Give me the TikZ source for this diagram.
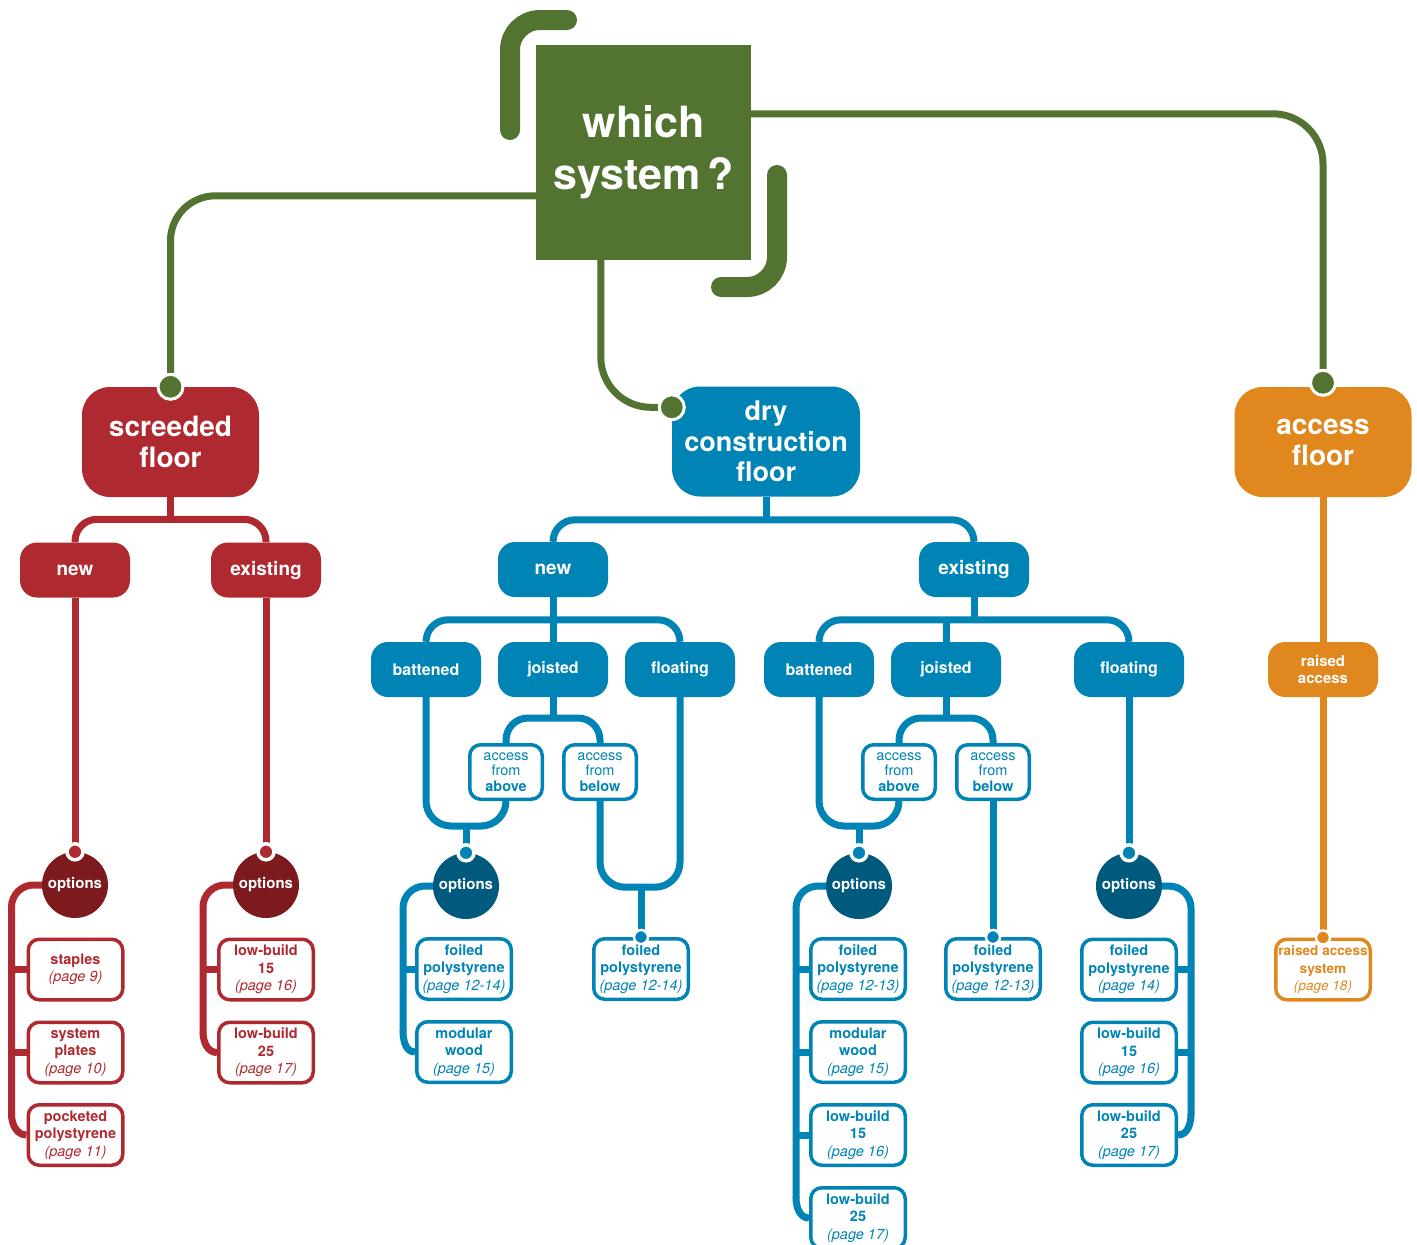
\documentclass[tikz,border=0pt]{standalone}
\usepackage{fontspec}
\setmainfont{TeX Gyre Heros}
\usetikzlibrary{calc}
\definecolor{cgreen}{RGB}{83,115,48}
\definecolor{cred}{RGB}{175,42,48}
\definecolor{cdred}{RGB}{125,26,30}
\definecolor{cblue}{RGB}{0,132,181}
\definecolor{cdblue}{RGB}{0,90,126}
\definecolor{corange}{RGB}{224,135,30}
\pgfdeclarelayer{backlayer}
\pgfdeclarelayer{wirelayer}
\pgfsetlayers{backlayer,wirelayer,main}
\newcommand\fsz[2]{\fontsize{#1}{#2}\selectfont}
\newcommand\pagelbl[1]{{\mdseries\itshape (page #1)}}
\tikzset{
 bigbox/.style={rectangle, rounded corners=28pt, fill=#1, text=white, minimum width=177pt, minimum height=110pt, inner sep=0pt, align=center, font=\bfseries\fsz{28}{31}},
 midbox/.style={rectangle, rounded corners=17pt, fill=#1, text=white, minimum width=110pt, minimum height=55pt, inner sep=0pt, align=center, font=\bfseries\fsz{19}{22}},
 smbox/.style={midbox=#1, font=\bfseries\fsz{16}{18}},
 accbox/.style={rectangle, rounded corners=11pt, fill=white, draw=#1, line width=3.5pt, text=#1, minimum width=72.5pt, minimum height=54.5pt, inner sep=0pt, align=center, font=\fsz{14.5}{15.8}},
 leafbox/.style={rectangle, rounded corners=11pt, fill=white, draw=#1, line width=3.5pt, text=#1, minimum width=94.5pt, minimum height=60.5pt, inner sep=0pt, align=center, font=\bfseries\fsz{14.5}{17.5}},
 optc/.style={circle, fill=#1, text=white, minimum size=66pt, inner sep=0pt, font=\bfseries\fsz{15}{18}},
 wire/.style={draw=#1, line width=7pt, rounded corners=22pt},
 ldot/.style={circle, fill=#1, draw=white, line width=2.5pt, minimum size=14pt, inner sep=0pt},
 odot/.style={circle, fill=#1, draw=white, line width=3.5pt, minimum size=16pt, inner sep=0pt},
 gdot/.style={circle, fill=cgreen, draw=white, line width=3pt, minimum size=25pt, inner sep=0pt},
}
\begin{document}
\begin{tikzpicture}[x=1pt,y=-1pt]
\useasboundingbox (0,0) rectangle (1417,1245);
\begin{pgfonlayer}{backlayer}
\fill[white] (0,0) rectangle (1417,1245);
\end{pgfonlayer}
\clip (0,0) rectangle (1417,1245);

% decorative brackets
\draw[cgreen, line width=20pt, line cap=round, rounded corners=30pt] (510,130) -- (510,20) -- (567,20);
\draw[cgreen, line width=20pt, line cap=round, rounded corners=30pt] (777,175) -- (777,287) -- (721,287);

% main box
\node[rectangle, fill=cgreen, text=white, minimum width=215pt, minimum height=215pt, inner sep=0pt, align=center, font=\bfseries\fsz{43}{52}] (q) at (643.5,152.5) {which\\system\,?};

% level 1
\node[bigbox=cred] (scr) at (170.5,442) {screeded\\floor};
\node[bigbox=cblue, minimum width=188pt, font=\bfseries\fsz{27}{30.5}] (dry) at (766,441.5) {dry\\construction\\floor};
\node[bigbox=corange] (acc) at (1323,442) {access\\floor};

\node[gdot] (gd1) at (scr.north) {};
\node[gdot] (gd3) at ($(acc.north)+(0,-4)$) {};
\node[gdot] (gd2) at ($(dry.north west)+(0,21)$) {};

% red
\node[midbox=cred] (rnew) at (75,570) {new};
\node[midbox=cred] (rex) at (266,570) {existing};
\node[optc=cdred] (ro1) at (75,885) {options};
\node[optc=cdred] (ro2) at (266,885) {options};
\node[leafbox=cred] (r1) at (75.5,969.5) {staples\\\pagelbl{9}};
\node[leafbox=cred] (r2) at (75.5,1052.5) {system\\plates\\\pagelbl{10}};
\node[leafbox=cred] (r3) at (75.5,1135) {pocketed\\polystyrene\\\pagelbl{11}};
\node[leafbox=cred] (r4) at (266,969.5) {low-build\\15\\\pagelbl{16}};
\node[leafbox=cred] (r5) at (266,1052.5) {low-build\\25\\\pagelbl{17}};
\node[odot=cred] (dro1) at (ro1.north) {};
\node[odot=cred] (dro2) at (ro2.north) {};

% blue
\node[midbox=cblue] (bnew) at (553,569.5) {new};
\node[midbox=cblue] (bex) at (974,569.5) {existing};
\node[smbox=cblue] (bat1) at (426,669.5) {battened};
\node[smbox=cblue] (joi1) at (553,669.5) {joisted};
\node[smbox=cblue] (flo1) at (680,669.5) {floating};
\node[smbox=cblue] (bat2) at (819,669.5) {battened};
\node[smbox=cblue] (joi2) at (946,669.5) {joisted};
\node[smbox=cblue] (flo2) at (1129,669.5) {floating};
\node[accbox=cblue] (af1) at (506,772) {access\\from\\\textbf{above}};
\node[accbox=cblue] (ab1) at (600,772) {access\\from\\\textbf{below}};
\node[accbox=cblue] (af2) at (899,772) {access\\from\\\textbf{above}};
\node[accbox=cblue] (ab2) at (993,772) {access\\from\\\textbf{below}};
\node[optc=cdblue] (bo1) at (466,886) {options};
\node[optc=cdblue] (bo2) at (859,886) {options};
\node[optc=cdblue] (bo3) at (1129,886) {options};
\node[leafbox=cblue] (fp1) at (464,969) {foiled\\polystyrene\\\pagelbl{12-14}};
\node[leafbox=cblue] (mw1) at (464,1052) {modular\\wood\\\pagelbl{15}};
\node[leafbox=cblue] (fo1) at (641,969) {foiled\\polystyrene\\\pagelbl{12-14}};
\node[leafbox=cblue] (fp2) at (858,969) {foiled\\polystyrene\\\pagelbl{12-13}};
\node[leafbox=cblue] (mw2) at (858,1052) {modular\\wood\\\pagelbl{15}};
\node[leafbox=cblue] (lb15b) at (858,1135) {low-build\\15\\\pagelbl{16}};
\node[leafbox=cblue] (lb25b) at (858,1218) {low-build\\25\\\pagelbl{17}};
\node[leafbox=cblue] (fo2) at (993,969) {foiled\\polystyrene\\\pagelbl{12-13}};
\node[leafbox=cblue] (fp3) at (1129,969.5) {foiled\\polystyrene\\\pagelbl{14}};
\node[leafbox=cblue] (lb15c) at (1129,1052.5) {low-build\\15\\\pagelbl{16}};
\node[leafbox=cblue] (lb25c) at (1129,1135) {low-build\\25\\\pagelbl{17}};
\node[odot=cblue] (dbo1) at (bo1.north) {};
\node[odot=cblue] (dbo2) at (bo2.north) {};
\node[odot=cblue] (dbo3) at (bo3.north) {};
\node[ldot=cblue] (dfo1) at (fo1.north) {};
\node[ldot=cblue] (dfo2) at (fo2.north) {};

% orange
\node[midbox=corange, font=\bfseries\fsz{15}{17.5}] (ra) at (1323,669.5) {raised\\access};
\node[leafbox=corange, font=\bfseries\fsz{13.6}{17.5}] (ras) at (1323,969.5) {raised access\\system\\\pagelbl{18}};
\node[ldot=corange] (dras) at (ras.north) {};

\begin{pgfonlayer}{wirelayer}
% green
\draw[wire=cgreen, rounded corners=50pt] ($(q.north east)+(0,69)$) -| (gd3);
\draw[wire=cgreen, rounded corners=45pt] ($(q.north west)+(0,151)$) -| (gd1);
\draw[wire=cgreen, rounded corners=50pt] ($(q.south west)+(65,0)$) |- (gd2);
% red
\draw[wire=cred] (scr.south) -- ++(0,25);
\draw[wire=cred] (rnew.north) -- ++(0,-23) -| (rex.north);
\draw[wire=cred] (rnew.south) -- (ro1.north);
\draw[wire=cred] (rex.south) -- (ro2.north);
\draw[wire=cred] (ro1.west) -| ($(r3.west)+(-15,-20)$);
\draw[wire=cred, sharp corners] ($(r3.west)+(-15,-21)$) to[out=-90,in=180] (r3.west);
\draw[wire=cred] (r1.west) -- ++(-16,0);
\draw[wire=cred] (r2.west) -- ++(-16,0);
\draw[wire=cred] (ro2.west) -| ($(r5.west)+(-14,-20)$);
\draw[wire=cred, sharp corners] ($(r5.west)+(-14,-21)$) to[out=-90,in=180] (r5.west);
\draw[wire=cred] (r4.west) -- ++(-15,0);
% blue
\draw[wire=cblue] (dry.south) -- ++(0,25);
\draw[wire=cblue] (bnew.north) -- ++(0,-22) -| (bex.north);
\draw[wire=cblue] (bat1.north) -- ++(0,-22) -| (flo1.north);
\draw[wire=cblue] (bnew.south) -- (joi1.north);
\draw[wire=cblue] (bat2.north) -- ++(0,-22) -| (flo2.north);
\draw[wire=cblue] (bex.south) -- ++(0,25);
\draw[wire=cblue] (joi2.north) -- ++(0,-24);
\draw[wire=cblue] (af1.north) -- ++(0,-25) -| (ab1.north);
\draw[wire=cblue] (joi1.south) -- ++(0,23);
\draw[wire=cblue] (af2.north) -- ++(0,-25) -| (ab2.north);
\draw[wire=cblue] (joi2.south) -- ++(0,23);
\draw[wire=cblue, rounded corners=25pt] (bat1.south) |- ($(af1.south)+(0,25)$) -- (af1.south);
\draw[wire=cblue] (bo1.north) -- ++(0,-30);
\draw[wire=cblue, rounded corners=25pt] (ab1.south) |- ($(flo1.south)+(0,190)$) -- (flo1.south);
\draw[wire=cblue] (fo1.north) -- ++(0,-52);
\draw[wire=cblue, rounded corners=25pt] (bat2.south) |- ($(af2.south)+(0,25)$) -- (af2.south);
\draw[wire=cblue] (bo2.north) -- ++(0,-30);
\draw[wire=cblue] (ab2.south) -- (fo2.north);
\draw[wire=cblue] (flo2.south) -- (bo3.north);
\draw[wire=cblue] (bo1.west) -| ($(mw1.west)+(-12,-20)$);
\draw[wire=cblue, sharp corners] ($(mw1.west)+(-12,-21)$) to[out=-90,in=180] (mw1.west);
\draw[wire=cblue] (fp1.west) -- ++(-15,0);
\draw[wire=cblue] (bo2.west) -| ($(lb25b.west)+(-13,-20)$);
\draw[wire=cblue, sharp corners] ($(lb25b.west)+(-13,-21)$) to[out=-90,in=180] (lb25b.west);
\draw[wire=cblue] (fp2.west) -- ++(-15,0);
\draw[wire=cblue] (mw2.west) -- ++(-15,0);
\draw[wire=cblue] (lb15b.west) -- ++(-15,0);
\draw[wire=cblue] (bo3.east) -| ($(lb25c.east)+(13,-20)$);
\draw[wire=cblue, sharp corners] ($(lb25c.east)+(13,-21)$) to[out=-90,in=0] (lb25c.east);
\draw[wire=cblue] (fp3.east) -- ++(15,0);
\draw[wire=cblue] (lb15c.east) -- ++(15,0);
% orange
\draw[wire=corange] (acc.south) -- (ra.north);
\draw[wire=corange] (ra.south) -- (ras.north);
\end{pgfonlayer}
\end{tikzpicture}
\end{document}
